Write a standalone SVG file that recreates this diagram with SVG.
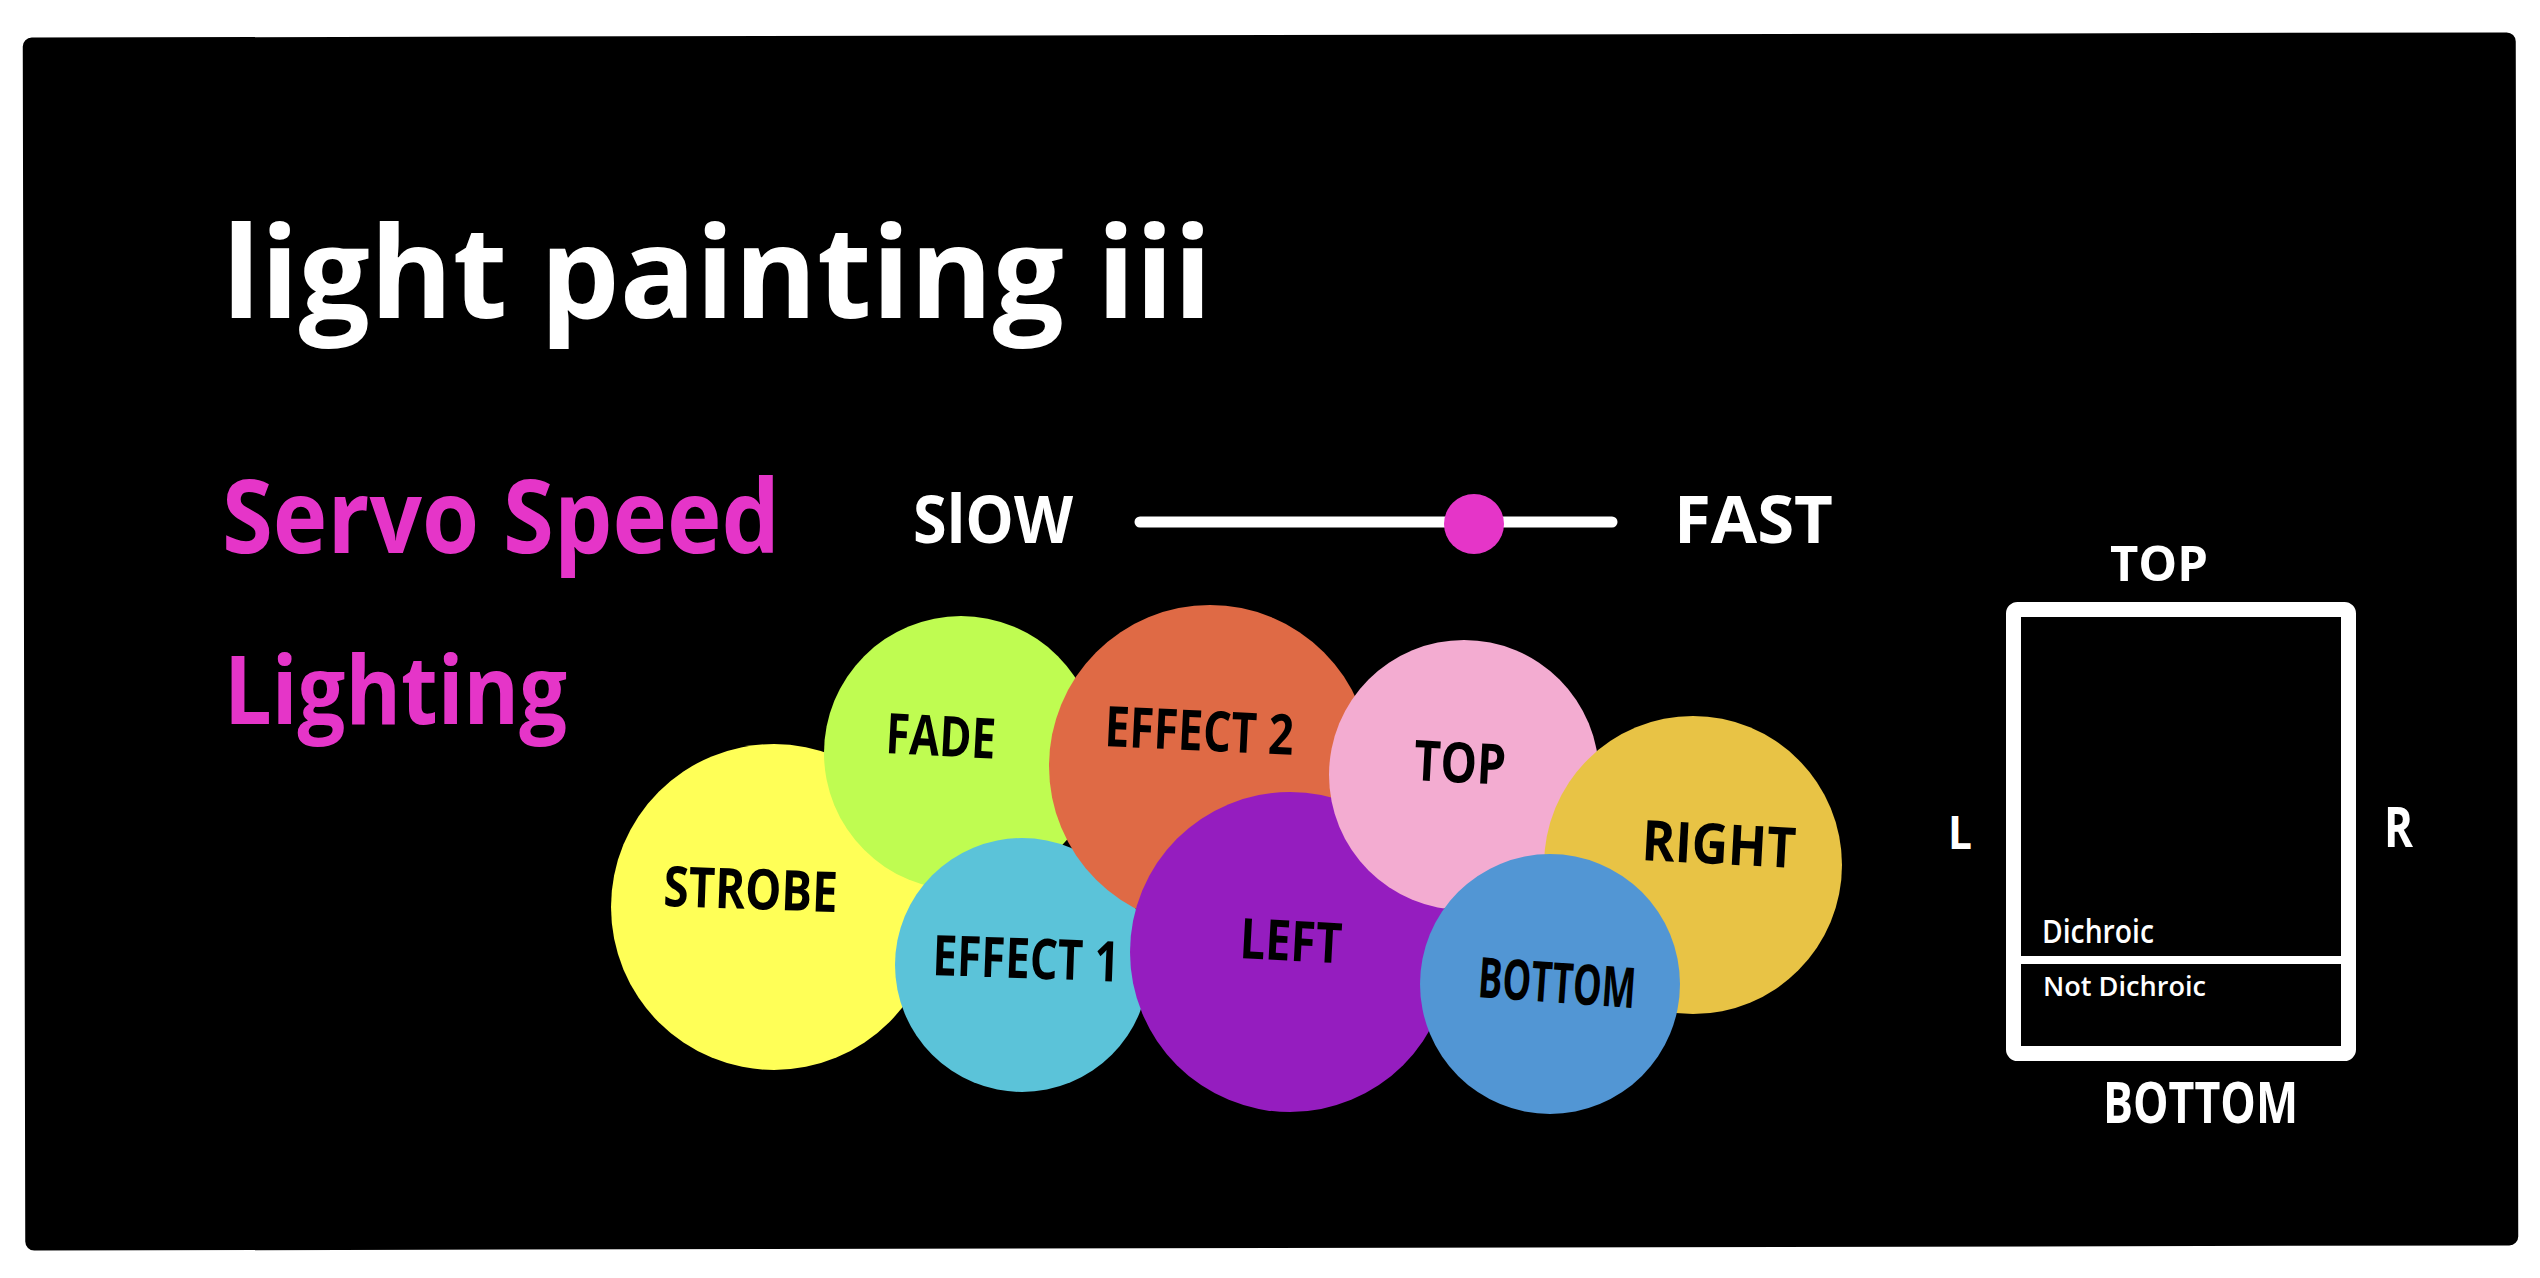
<svg xmlns="http://www.w3.org/2000/svg" width="2540" height="1278" viewBox="0 0 2540 1278">
  <style>
    .hand { font-family: "Open Sans", "Liberation Sans", sans-serif; font-weight: 700; }
    .white { fill: #ffffff; }
    .pink { fill: #e535c8; }
    .lbl { font-family: "Open Sans", "Liberation Sans", sans-serif; font-weight: 700; font-size: 56px; fill: #000000; }
    .thin { font-family: "Open Sans", "Liberation Sans", sans-serif; font-weight: 600; fill: #ffffff; }
  </style>
  <rect x="0" y="0" width="2540" height="1278" fill="#ffffff"/>
  <rect id="panel" x="24" y="35" width="2493" height="1213" rx="9" fill="#000000" transform="rotate(-0.12 1270 640)"/>

  <g id="title">
    <text class="hand white" x="222" y="318" font-size="128" textLength="990" lengthAdjust="spacingAndGlyphs">light painting iii</text>
  </g>

  <g id="servo-speed">
    <text class="hand pink" x="222" y="553" font-size="102" textLength="558" lengthAdjust="spacingAndGlyphs">Servo Speed</text>
  </g>

  <g id="lighting">
    <text class="hand pink" x="224" y="724" font-size="95" textLength="343" lengthAdjust="spacingAndGlyphs">Lighting</text>
  </g>

  <g id="slider">
    <text class="hand white" x="913" y="543" font-size="67" textLength="160" lengthAdjust="spacingAndGlyphs">SlOW</text>
    <line x1="1140" y1="522" x2="1612" y2="522" stroke="#ffffff" stroke-width="11" stroke-linecap="round"/>
    <circle cx="1474" cy="524" r="30" fill="#e535c8"/>
    <text class="hand white" x="1674" y="543" font-size="67" textLength="159" lengthAdjust="spacingAndGlyphs">FAST</text>
  </g>

  <g id="node-strobe">
    <circle cx="774" cy="907" r="163" fill="#ffff57"/>
  </g>
  <g id="node-fade">
    <circle cx="961" cy="753" r="137" fill="#bffc51"/>
  </g>
  <g id="node-effect1">
    <circle cx="1022" cy="965" r="127" fill="#5bc3d9"/>
  </g>
  <g id="node-effect2">
    <circle cx="1210" cy="766" r="161" fill="#df6a45"/>
  </g>
  <g id="node-left">
    <circle cx="1290" cy="952" r="160" fill="#951dbf"/>
  </g>
  <g id="node-top">
    <circle cx="1464" cy="775" r="135" fill="#f3acd1"/>
  </g>
  <g id="node-right">
    <circle cx="1693" cy="865" r="149" fill="#e8c345"/>
  </g>
  <g id="node-bottom">
    <circle cx="1550" cy="984" r="130" fill="#5296d4"/>
  </g>

  <g id="circle-labels">
    <text class="lbl" x="663" y="906" textLength="174" lengthAdjust="spacingAndGlyphs" transform="rotate(2 663 906)">STROBE</text>
    <text class="lbl" x="885" y="753" textLength="110" lengthAdjust="spacingAndGlyphs" transform="rotate(3 885 753)">FADE</text>
    <text class="lbl" x="932" y="975" textLength="187" lengthAdjust="spacingAndGlyphs" transform="rotate(2 932 975)">EFFECT 1</text>
    <text class="lbl" x="1104" y="746" textLength="189" lengthAdjust="spacingAndGlyphs" transform="rotate(2.7 1104 746)">EFFECT 2</text>
    <text class="lbl" x="1239" y="958" textLength="102" lengthAdjust="spacingAndGlyphs" transform="rotate(3 1239 958)">LEFT</text>
    <text class="lbl" x="1413" y="780" textLength="92" lengthAdjust="spacingAndGlyphs" transform="rotate(3 1413 780)">TOP</text>
    <text class="lbl" x="1641" y="860" textLength="154" lengthAdjust="spacingAndGlyphs" transform="rotate(3 1641 860)">RIGHT</text>
    <text class="lbl" x="1477" y="997" textLength="158" lengthAdjust="spacingAndGlyphs" transform="rotate(4 1477 997)">BOTTOM</text>
  </g>

  <g id="lamp-box">
    <rect x="2013.5" y="609.5" width="335" height="444" rx="4" fill="none" stroke="#ffffff" stroke-width="15"/>
    <line x1="2014" y1="960" x2="2349" y2="960" stroke="#ffffff" stroke-width="8"/>
    <text class="thin" x="2042" y="943" font-size="32" textLength="112" lengthAdjust="spacingAndGlyphs">Dichroic</text>
    <text class="thin" x="2043" y="996" font-size="27" textLength="163" lengthAdjust="spacingAndGlyphs">Not Dichroic</text>
    <text class="hand white" x="2110" y="581" font-size="48" textLength="98" lengthAdjust="spacingAndGlyphs">TOP</text>
    <text class="hand white" x="1948" y="849" font-size="47" textLength="24" lengthAdjust="spacingAndGlyphs">L</text>
    <text class="hand white" x="2384" y="847" font-size="55" textLength="29" lengthAdjust="spacingAndGlyphs">R</text>
    <text class="hand white" x="2103" y="1123" font-size="58" textLength="195" lengthAdjust="spacingAndGlyphs">BOTTOM</text>
  </g>
</svg>
